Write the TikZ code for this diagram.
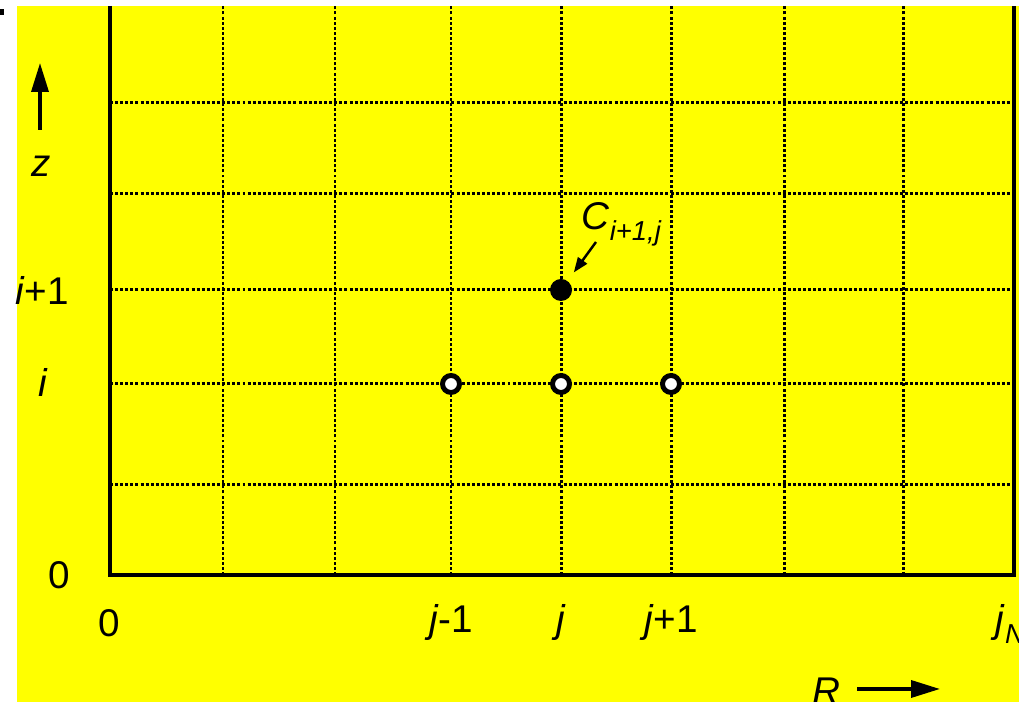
\documentclass[tikz,border=0pt]{standalone}
\usepackage{fontspec}
\setmainfont{Liberation Sans}
\usetikzlibrary{arrows.meta}

\definecolor{sheetyellow}{RGB}{255,255,0}

\tikzset{
  every node/.style={font=\fontsize{11}{13}\selectfont, inner sep=0pt},
  gridline/.style={line width=0.85pt, dash pattern=on 0.85pt off 0.6pt},
  frameline/.style={line width=1.3pt},
  axisarrow/.style={line width=1pt, -{Triangle[length=0.29cm,width=0.17cm]}},
  oldpoint/.style={circle, draw, fill=white, line width=1.4pt, minimum size=0.17cm},
  newpoint/.style={circle, fill=black, minimum size=0.22cm},
}

\begin{document}
\begin{tikzpicture}

        % 1. Page and background
        \useasboundingbox (0,0) rectangle (10.19,7.02);
        \clip (0,0) rectangle (10.19,7.02);
        \fill[sheetyellow] (0.17,0) rectangle (10.19,6.96);
        \fill[black] (0,6.87) rectangle (0.04,6.93);

        % 2. Dotted grid (columns j, rows i)
        \draw[gridline] (2.23,1.27) -- (2.23,6.96);
        \draw[gridline] (3.35,1.27) -- (3.35,6.96);
        \draw[gridline] (4.51,1.27) -- (4.51,6.96);
        \draw[gridline] (5.61,1.27) -- (5.61,6.96);
        \draw[gridline] (6.71,1.27) -- (6.71,6.96);
        \draw[gridline] (7.84,1.27) -- (7.84,6.96);
        \draw[gridline] (9.03,1.27) -- (9.03,6.96);
        \draw[gridline] (1.10,2.17) -- (10.14,2.17);
        \draw[gridline] (1.10,3.18) -- (10.14,3.18);
        \draw[gridline] (1.10,4.12) -- (10.14,4.12);
        \draw[gridline] (1.10,5.08) -- (10.14,5.08);
        \draw[gridline] (1.10,5.99) -- (10.14,5.99);

        % 3. Domain frame (open at the top)
        \draw[frameline] (1.10,6.96) -- (1.10,1.27) -- (10.14,1.27) -- (10.14,6.96);

        % 4. Grid points: known row i, unknown C_{i+1,j}
        \node[oldpoint] (pjm) at (4.51,3.18) {};
        \node[oldpoint] (pj)  at (5.61,3.18) {};
        \node[oldpoint] (pjp) at (6.71,3.18) {};
        \node[newpoint] (cdot) at (5.61,4.12) {};

        % 5. Label of the new point and its pointer
        \node[anchor=base west] (clabel) at (5.81,4.72)
          {\textit{C}\raisebox{-0.26em}{\fontsize{7.8}{9}\selectfont\textit{i+1,j}}};
        \coordinate (ctail) at (5.96,4.60);
        \draw[line width=0.7pt, -{Triangle[length=0.15cm,width=0.11cm]}, shorten >=0.1cm] (ctail) -- (cdot);

        % 6. Row labels and z axis
        \node[anchor=base] (rowzero) at (0.59,1.13) {0};
        \node[anchor=base] (rowi)    at (0.43,3.05) {\textit{i}};
        \node[anchor=base] (rowip)   at (0.42,3.97) {\textit{i}+1};
        \node[anchor=base] (zlabel)  at (0.41,5.25) {\textit{z}};
        \coordinate (ztail) at (0.40,5.72);
        \coordinate (ztip)  at (0.40,6.39);
        \draw[axisarrow] (ztail) -- (ztip);

        % 7. Column labels and R axis
        \node[anchor=base] (colzero) at (1.09,0.65) {0};
        \node[anchor=base] (coljm)   at (4.51,0.69) {\textit{j}-1};
        \node[anchor=base] (colj)    at (5.61,0.69) {\textit{j}};
        \node[anchor=base] (coljp)   at (6.71,0.69) {\textit{j}+1};
        \node[anchor=base west] (colN) at (9.95,0.69)
          {\textit{j}\raisebox{-0.26em}{\fontsize{7.8}{9}\selectfont\textit{N}}};
        \node[anchor=base] (rlabel)  at (8.26,-0.03) {\textit{R}};
        \coordinate (rtail) at (8.57,0.13);
        \coordinate (rtip)  at (9.40,0.13);
        \draw[axisarrow] (rtail) -- (rtip);

\end{tikzpicture}
\end{document}
